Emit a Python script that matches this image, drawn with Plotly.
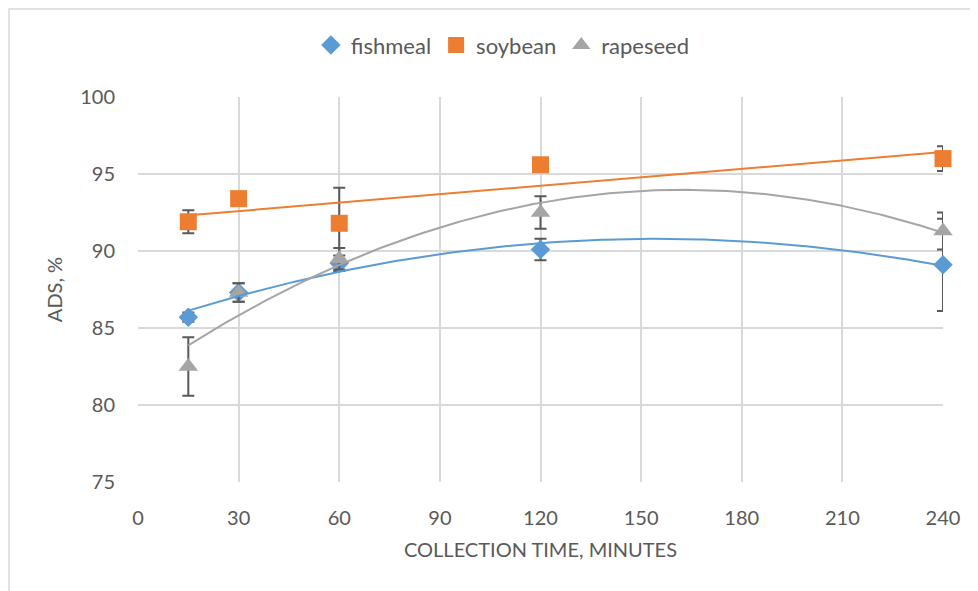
import numpy as np
import plotly.graph_objects as go

time_min = [15, 30, 60, 120, 240]

fishmeal = [85.7, 87.3, 89.2, 90.1, 89.1]
fishmeal_err = [0.3, 0.6, 0.5, 0.7, 3.0]

soybean = [91.9, 93.4, 91.8, 95.6, 96.0]
soybean_err = [0.75, 0.0, 2.3, 0.0, 0.8]

rapeseed = [82.5, 87.3, 89.5, 92.5, 91.3]
rapeseed_err = [1.9, 0.6, 0.7, 1.05, 1.2]

x_ticks = [0, 30, 60, 90, 120, 150, 180, 210, 240]
y_ticks = [75, 80, 85, 90, 95, 100]

FONT = "Lato, 'Noto Sans', sans-serif"
TXT = "#595959"

series = [
    ("fishmeal", fishmeal, fishmeal_err, "#5B9BD5", "diamond", 15, 2),
    ("soybean", soybean, soybean_err, "#ED7D31", "square", 17, 1),
    ("rapeseed", rapeseed, rapeseed_err, "#A5A5A5", "triangle-up", 17, 2),
]

fig = go.Figure()

for name, vals, err, color, sym, size, deg in series:
    fig.add_trace(go.Scatter(
        x=time_min, y=vals, mode="markers", name=name, cliponaxis=False,
        marker=dict(symbol=sym, size=size, color=color, line=dict(width=0)),
        error_y=dict(type="data", array=err, visible=True, color="#595959",
                     thickness=2, width=6),
    ))

for name, vals, err, color, sym, size, deg in series:
    coef = np.polyfit(time_min, vals, deg)
    xs = np.linspace(min(time_min), max(time_min), 200)
    fig.add_trace(go.Scatter(
        x=xs, y=np.polyval(coef, xs), mode="lines", showlegend=False,
        hoverinfo="skip", line=dict(color=color, width=2), cliponaxis=False,
    ))

L, R, T, B = 130, 935, 89, 474
fig.update_layout(
    width=978, height=591,
    margin=dict(l=L, r=978 - R, t=T, b=591 - B),
    paper_bgcolor="white", plot_bgcolor="white",
    font=dict(family=FONT, color=TXT, size=20),
    showlegend=True,
    legend=dict(orientation="h", xref="container", yref="container",
                x=0.506, xanchor="center", y=0.937, yanchor="middle",
                font=dict(size=22, color=TXT), itemwidth=30,
                tracegroupgap=0),
    xaxis=dict(range=[0, 240], tickvals=x_ticks, showgrid=True,
               gridcolor="#d9d9d9", gridwidth=1.5, zeroline=False,
               showline=False, ticks="", ticklabelstandoff=22,
               tickfont=dict(size=20, color=TXT),
               title=dict(text="COLLECTION TIME, MINUTES",
                          font=dict(size=20, color=TXT), standoff=14)),
    yaxis=dict(range=[75, 100], tickvals=y_ticks, showgrid=True,
               gridcolor="#d9d9d9", gridwidth=1.5, zeroline=False,
               showline=False, ticks="", ticklabelstandoff=22,
               tickfont=dict(size=20, color=TXT),
               title=dict(text="ADS, %", font=dict(size=20, color=TXT),
                          standoff=12)),
    shapes=[dict(type="rect", xref="paper", yref="paper",
                 x0=(1 - L) / (R - L), x1=(1000 - L) / (R - L),
                 y0=(B - 620) / (B - T), y1=(B - 1) / (B - T),
                 line=dict(color="#d9d9d9", width=1.5), layer="below")],
)

fig.write_html("out.html")
